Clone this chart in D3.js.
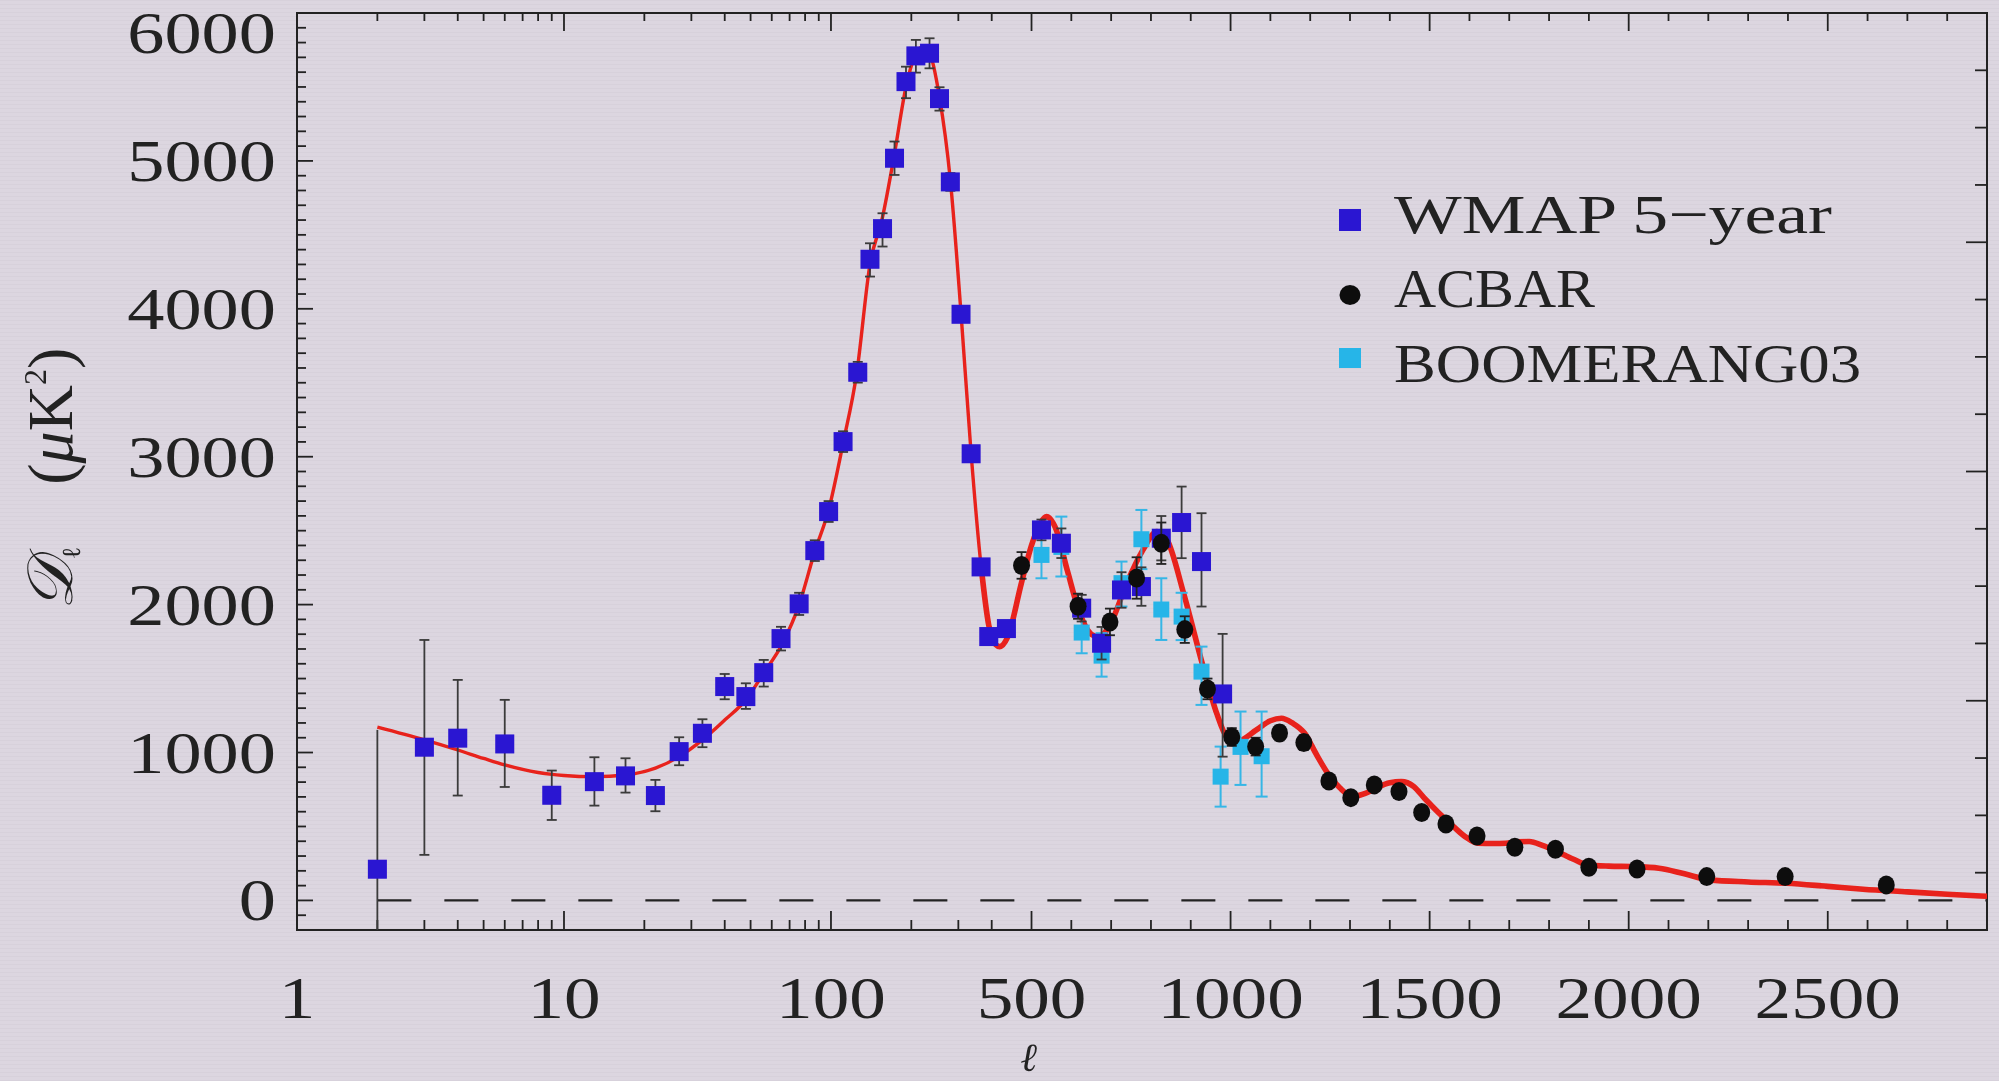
<!DOCTYPE html>
<html><head><meta charset="utf-8">
<script src="https://cdn.jsdelivr.net/npm/d3@7"></script>
<style>html,body{margin:0;padding:0;background:#dcd6e0;overflow:hidden}</style>
</head><body><svg id="c" width="1999" height="1081"></svg>
<script>
// ---------------- data ----------------
const wmapL  = [2,3,4,6,9,13,17,22,27,33,40,48,56,65,76,87,98,111,126,140,156,173,191,208,234,255,280,307,335,365,390,437,525,575,626,676,726,776,826,877,927,980];
const wmapD  = [211,1036,1097,1058,711,803,842,709,1006,1130,1446,1378,1540,1770,2005,2365,2629,3102,3571,4335,4542,5018,5536,5710,5728,5421,4858,3963,3020,2255,1784,1838,2505,2415,1976,1739,2099,2122,2449,2555,2291,1396];
const wmapHi = [1153,1761,1491,1356,878,968,961,815,1103,1225,1531,1468,1626,1850,2080,2435,2700,3172,3641,4443,4646,5131,5637,5818,5829,5498,4918,4013,3070,2305,1824,1878,2575,2515,2066,1849,2219,2252,2599,2798,2618,1802];
const wmapLo = [-200,308,709,767,544,641,729,603,914,1036,1360,1295,1446,1690,1930,2295,2559,3032,3501,4218,4421,4905,5424,5597,5626,5340,4798,3913,2970,2205,1744,1798,2435,2315,1886,1629,1979,1992,2299,2314,1987,972];

const acbarL  = [475,617,697,764,826,885,942,1003,1063,1123,1184,1247,1302,1361,1423,1480,1541,1619,1714,1816,1900,2021,2196,2393,2647];
const acbarD  = [2265,1989,1883,2180,2415,1831,1430,1105,1040,1132,1067,808,695,781,736,594,517,436,360,346,224,213,161,161,105];
const acbarE  = [90,85,90,140,140,90,70,60,60,50,50,40,35,35,35,30,30,25,25,25,25,25,25,30,30];

const boomL  = [525,575,626,676,726,776,826,877,927,975,1025,1078];
const boomD  = [2336,2390,1811,1655,2145,2442,1967,1919,1547,837,1038,975];
const boomHi = [2500,2595,1987,1807,2291,2640,2178,2080,1716,1040,1277,1277];
const boomLo = [2178,2190,1671,1513,1987,2240,1761,1760,1322,634,781,702];

const modelL = [2,3,4,5,6,8,10,13,17,22,27,33,40,48,56,66,76,87,98,111,125,140,156,173,191,205,220,234,255,280,307,335,365,390,410,420,440,475,500,520,538,560,590,620,650,670,700,740,780,815,840,882,931,965,990,1015,1065,1100,1128,1155,1186,1215,1244,1275,1307,1335,1365,1400,1429,1460,1487,1520,1551,1590,1621,1660,1692,1720,1750,1785,1820,1860,1897,1950,2013,2076,2140,2204,2300,2397,2500,2589,2700,2800,2900];
const modelD = [1171,1085,1017,960,916,865,845,837,848,894,972,1085,1220,1356,1538,1741,2000,2360,2640,3090,3570,4300,4620,5050,5500,5700,5770,5730,5430,4870,3970,3020,2260,1860,1730,1716,1780,2150,2400,2540,2595,2520,2230,1950,1800,1780,1880,2150,2370,2494,2440,2077,1581,1266,1108,1074,1153,1215,1232,1200,1130,990,860,760,702,720,759,795,803,770,691,600,522,430,387,385,387,397,398,370,330,280,240,232,229,218,180,139,125,116,95,76,58,42,28];

const yTickLabels = [0,1000,2000,3000,4000,5000,6000];
const xTickLabels = [1,10,100,500,1000,1500,2000,2500];
const legendNames = ["WMAP 5\u2212year","ACBAR","BOOMERANG03"];

// ---------------- scales ----------------
const X0 = 297, X1 = 1987, Y0 = 13, Y1 = 930, LBREAK = 400;
const xLog = d3.scaleLog().domain([1, LBREAK]).range([X0, 991.7]);
const xLin = d3.scaleLinear().domain([LBREAK, 2900]).range([991.7, X1]);
const x = l => l <= LBREAK ? xLog(l) : xLin(l);
const y = d3.scaleLinear().domain([-200, 6000]).range([Y1, Y0]);
const yRight = d3.scaleLinear().domain([0, 16]).range([Y1, Y0]);

const svg = d3.select("#c");
const FONT = "'Liberation Serif','DejaVu Serif',serif";
const INK = "#222";

svg.append("rect").attr("width",1999).attr("height",1081).attr("fill","#dcd6e0");
const defs = svg.append("defs");
const pat = defs.append("pattern").attr("id","scan").attr("width",8).attr("height",4).attr("patternUnits","userSpaceOnUse");
pat.append("rect").attr("width",8).attr("height",1).attr("fill","#000").attr("opacity",0.025);
svg.append("rect").attr("width",1999).attr("height",1081).attr("fill","url(#scan)");
defs.append("filter").attr("id","soft").append("feGaussianBlur").attr("stdDeviation",0.6);

const g = svg.append("g").attr("filter","url(#soft)");

// ---------------- ticks ----------------
const logMinor = [];
for (const dec of [1,10,100]) for (let k=2;k<=9;k++){ const v=k*dec; if (v<=LBREAK) logMinor.push(v); }
const xMajor = [10,100,500,1000,1500,2000,2500];
const xMinor = logMinor.concat(d3.range(600,2901,100).filter(v=>v%500!==0));

const tk = g.append("g").attr("stroke",INK).attr("stroke-width",1.8);
tk.selectAll(".xb").data(xMajor.map(v=>({v,len:19})).concat(xMinor.map(v=>({v,len:10}))))
  .join("line").attr("x1",d=>x(d.v)).attr("x2",d=>x(d.v)).attr("y1",Y1).attr("y2",d=>Y1-d.len);
tk.selectAll(".xt").data(xMajor.map(v=>({v,len:18})).concat(xMinor.map(v=>({v,len:8}))))
  .join("line").attr("class","xt").attr("x1",d=>x(d.v)).attr("x2",d=>x(d.v)).attr("y1",Y0).attr("y2",d=>Y0+d.len);
const yMin = d3.range(-100, 6001, 100);
tk.selectAll(".yl").data(yMin).join("line").attr("class","yl")
  .attr("x1",X0).attr("x2",d=>X0+(d%1000===0?16:9)).attr("y1",d=>y(d)).attr("y2",d=>y(d));
tk.selectAll(".yr").data(d3.range(1,16)).join("line").attr("class","yr")
  .attr("x1",X1).attr("x2",d=>X1-(d%4===0?21:12)).attr("y1",d=>yRight(d)).attr("y2",d=>yRight(d));

g.append("rect").attr("x",X0).attr("y",Y0).attr("width",X1-X0).attr("height",Y1-Y0)
  .attr("fill","none").attr("stroke",INK).attr("stroke-width",2);

g.append("line").attr("x1",x(2)).attr("x2",X1).attr("y1",y(0)).attr("y2",y(0))
  .attr("stroke",INK).attr("stroke-width",2.2).attr("stroke-dasharray","34,33");

// ---------------- tick labels ----------------
function stretchText(sel, tx, ty, txt, size, sx, anchor){
  return sel.append("text").attr("transform",`translate(${tx},${ty}) scale(${sx},1)`)
    .attr("text-anchor",anchor).attr("font-family",FONT).attr("font-size",size).attr("fill",INK).text(txt);
}
const labs = g.append("g");
yTickLabels.forEach(v=>{
  const cy = Math.max(y(v), 33);
  stretchText(labs, 276, cy+20, String(v), 60, 1.24, "end");
});
xTickLabels.forEach(v=>{
  stretchText(labs, x(v), 1018, String(v), 60, 1.22, "middle");
});

// axis titles
const yt = g.append("text").attr("transform","translate(72,479) rotate(-90)")
  .attr("text-anchor","middle").attr("font-family",FONT).attr("font-size",64).attr("fill",INK);
yt.append("tspan").attr("font-style","italic").text("\uD835\uDC9F");
yt.append("tspan").attr("font-size",26).attr("dy",8).text("\u2113");
yt.append("tspan").attr("dy",-8).attr("dx",62).text("(");
yt.append("tspan").attr("font-style","italic").text("\u03BC");
yt.append("tspan").text("K");
yt.append("tspan").attr("font-size",32).attr("dy",-26).text("2");
yt.append("tspan").attr("dy",26).text(")");

stretchText(g, x(500)-3, 1071, "\u2113", 40, 1.0, "middle").attr("font-style","italic");

// ---------------- model curve ----------------
const model = modelL.map((l,i)=>({l, d:modelD[i]}));
const line = d3.line().x(d=>x(d.l)).y(d=>y(d.d)).curve(d3.curveMonotoneX);
const RED = "#e8211a";
g.append("path").attr("d",line(model)).attr("fill","none").attr("stroke",RED).attr("stroke-width",3.4);
g.append("path").attr("d",line(model.filter(d=>d.l>=365))).attr("fill","none").attr("stroke",RED).attr("stroke-width",5.6).attr("stroke-linejoin","round");

// ---------------- error bars ----------------
function errBars(data, color, cap, w){
  const eg = g.append("g").attr("stroke",color).attr("stroke-width",w);
  eg.selectAll("line.v").data(data).join("line").attr("class","v")
    .attr("x1",d=>x(d.l)).attr("x2",d=>x(d.l)).attr("y1",d=>y(Math.min(d.hi,6000))).attr("y2",d=>y(Math.max(d.lo,-200)));
  eg.selectAll("line.t").data(data.filter(d=>d.lo>-200)).join("line").attr("class","t")
    .attr("x1",d=>x(d.l)-cap).attr("x2",d=>x(d.l)+cap).attr("y1",d=>y(d.hi)).attr("y2",d=>y(d.hi));
  eg.selectAll("line.b").data(data.filter(d=>d.lo>-200)).join("line").attr("class","b")
    .attr("x1",d=>x(d.l)-cap).attr("x2",d=>x(d.l)+cap).attr("y1",d=>y(d.lo)).attr("y2",d=>y(d.lo));
}
const wmap = wmapL.map((l,i)=>({l,d:wmapD[i],hi:wmapHi[i],lo:wmapLo[i]}));
const acbar = acbarL.map((l,i)=>({l,d:acbarD[i],hi:acbarD[i]+acbarE[i],lo:acbarD[i]-acbarE[i]}));
const boom = boomL.map((l,i)=>({l,d:boomD[i],hi:boomHi[i],lo:boomLo[i]}));

const BLUE="#2a14d2", CYAN="#28b5e8", BLACK="#111";
errBars(boom, "#35b6e6", 6, 2);
g.selectAll("rect.bm").data(boom).join("rect").attr("class","bm")
  .attr("x",d=>x(d.l)-8).attr("y",d=>y(d.d)-8).attr("width",16).attr("height",16).attr("fill",CYAN);
errBars(wmap, "#3a3a3a", 5, 1.8);
g.selectAll("rect.wm").data(wmap).join("rect").attr("class","wm")
  .attr("x",d=>x(d.l)-9.5).attr("y",d=>y(d.d)-9.5).attr("width",19).attr("height",19).attr("fill",BLUE);
errBars(acbar, "#222", 5, 1.8);
g.selectAll("ellipse.ac").data(acbar).join("ellipse").attr("class","ac")
  .attr("cx",d=>x(d.l)).attr("cy",d=>y(d.d)).attr("rx",8.5).attr("ry",9.5).attr("fill",BLACK);

// ---------------- legend ----------------
const lg = g.append("g");
const legY = [220, 295, 358];
const legBase = [233, 307, 382];
const legLen = [438, 201, 467];
lg.append("rect").attr("x",1339).attr("y",legY[0]-11).attr("width",22).attr("height",22).attr("fill",BLUE);
lg.append("ellipse").attr("cx",1350).attr("cy",legY[1]).attr("rx",10.5).attr("ry",10).attr("fill",BLACK);
lg.append("rect").attr("x",1339).attr("y",legY[2]-10).attr("width",22).attr("height",20).attr("fill",CYAN);
legendNames.forEach((n,i)=>{
  lg.append("text").attr("x",1394).attr("y",legBase[i]).attr("font-family",FONT).attr("font-size",55)
    .attr("fill",INK).attr("textLength",legLen[i]).attr("lengthAdjust","spacingAndGlyphs").text(n);
});
</script></body></html>
